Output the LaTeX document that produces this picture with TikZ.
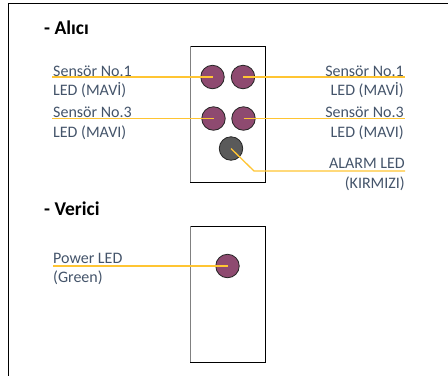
\documentclass[tikz,border=0pt]{standalone}
\usepackage{fontspec}
\setmainfont{Carlito}
\definecolor{txt}{HTML}{44546A}
\definecolor{gold}{HTML}{FFC533}
\definecolor{ledp}{HTML}{8E4A70}
\definecolor{ledg}{HTML}{5A5A5A}
\begin{document}
\begin{tikzpicture}[x=1pt,y=-1pt,
  lbl/.style={font=\fontsize{16}{19}\selectfont, text=txt, inner sep=0pt},
  ttl/.style={font=\fontsize{19.5}{22}\selectfont\bfseries, text=black, inner sep=0pt, anchor=base west},
  led/.style={circle, draw=black!85, line width=0.8pt, minimum size=23.5pt, inner sep=0pt},
  wire/.style={draw=gold, line width=1.8pt},
  board/.style={draw=black, line width=0.9pt}]
\useasboundingbox (0,0) rectangle (448,376);
% outer frame (top and left only)
\draw[line width=1.2pt] (448,3.5) -- (8.5,3.5) -- (8.5,376);
% titles
\node[ttl] (t1) at (44,34) {- Alıcı};
\node[ttl] (t2) at (44,215.5) {- Verici};
% boards
\draw[board] (190,46) rectangle (265,182);
\draw[black!50, line width=1pt] (190,46) -- (190,182);
\draw[board] (190,226) rectangle (265,362);
\draw[black!50, line width=1pt] (190,226) -- (190,362);
% LEDs
\node[led, fill=ledp] (l1) at (212.5,77) {};
\node[led, fill=ledp] (l2) at (243,77) {};
\node[led, fill=ledp] (l3) at (213.5,118.5) {};
\node[led, fill=ledp] (l4) at (243.5,118.5) {};
\node[led, fill=ledg] (l5) at (231,148.5) {};
\node[led, fill=ledp] (l6) at (227.5,266) {};
% connector ends
\coordinate (a1) at (52,77);
\coordinate (a3) at (52,118.5);
\coordinate (b2) at (405,77);
\coordinate (b4) at (405,118.5);
\coordinate (k) at (254,171);
\coordinate (b5) at (405,171);
\coordinate (a6) at (53,266);
% wires
\draw[wire] (a1) -- (l1.center);
\draw[wire] (a3) -- (l3.center);
\draw[wire] (l2.center) -- (b2);
\draw[wire] (l4.center) -- (b4);
\draw[wire, line width=1.3pt] (l5.center) -- (k) -- (b5);
\draw[wire] (a6) -- (l6.center);
% labels left
\node[lbl, anchor=base west] (s1) at (53,76) {Sensör No.1};
\node[lbl, anchor=base west] (m1) at (53,95.5) {LED (MAVİ)};
\node[lbl, anchor=base west] (s3) at (53,117.5) {Sensör No.3};
\node[lbl, anchor=base west] (m3) at (53,137) {LED (MAVI)};
% labels right
\node[lbl, anchor=base east] (s2) at (404,76) {Sensör No.1};
\node[lbl, anchor=base east] (m2) at (404,95.5) {LED (MAVİ)};
\node[lbl, anchor=base east] (s4) at (404,117.5) {Sensör No.3};
\node[lbl, anchor=base east] (m4) at (404,137) {LED (MAVI)};
\node[lbl, anchor=base east] (al) at (405,168.5) {ALARM LED};
\node[lbl, anchor=base east] (kr) at (405,188) {(KIRMIZI)};
% verici labels
\node[lbl, anchor=base west] (p1) at (53,263) {Power LED};
\node[lbl, anchor=base west] (p2) at (53,282.5) {(Green)};
\end{tikzpicture}
\end{document}
